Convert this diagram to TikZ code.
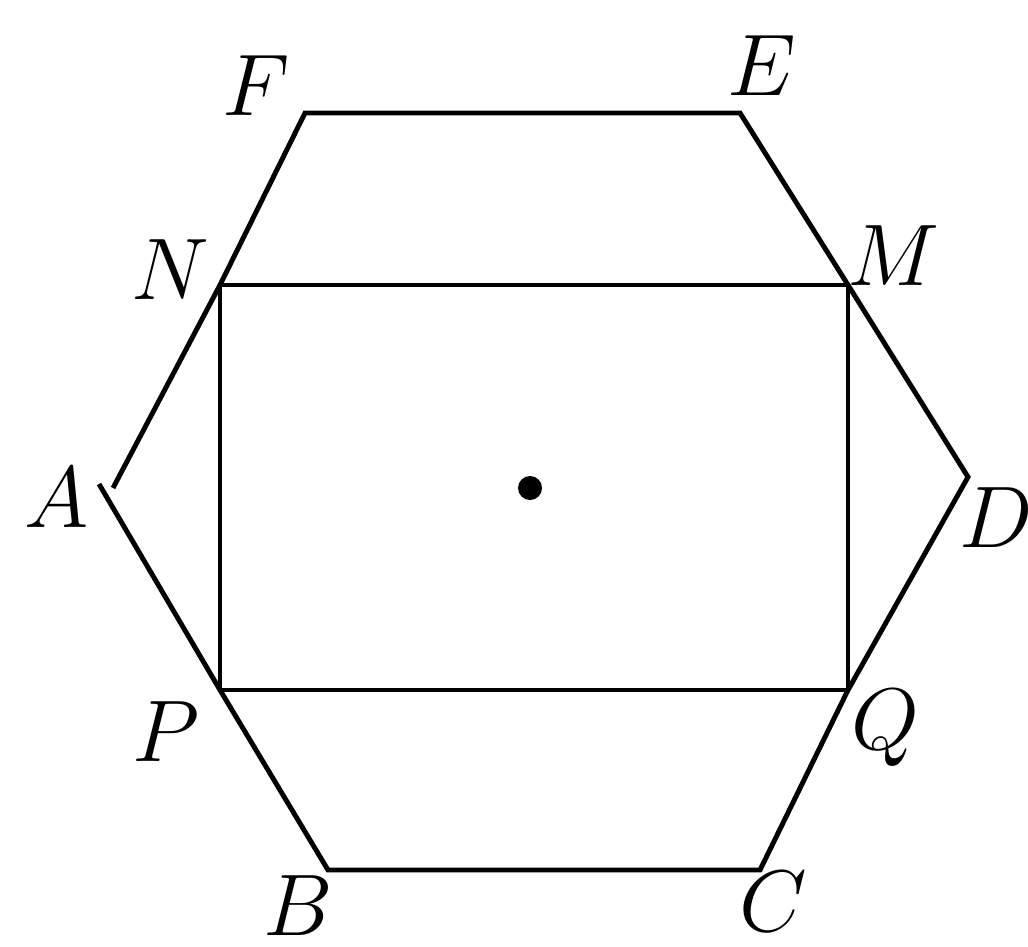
\documentclass[tikz,border=0pt]{standalone}
\usepackage{amsmath,amssymb}
\usepackage{tikz}
\usetikzlibrary{calc}

\begin{document}
\begin{tikzpicture}[x=0.01cm,y=-0.01cm,
			point/.style={circle,fill=black,inner sep=0pt,minimum size=0.24cm},
			edge/.style={line width=1.4pt,line join=miter},
			lab/.style={font=\fontsize{25}{30}\selectfont,inner sep=0pt},
			]
			\useasboundingbox (0,0) rectangle (1028,946);
			% 六边形顶点
			\coordinate (F) at (305,113);
			\coordinate (E) at (740,113);
			\coordinate (D) at (968,477);
			\coordinate (C) at (760,870);
			\coordinate (B) at (328,870);
			\coordinate (A1) at (113,488);
			\coordinate (A2) at (99,484);
			% 矩形顶点
			\coordinate (N) at (220,285);
			\coordinate (M) at (848,285);
			\coordinate (Q) at (848,690);
			\coordinate (P) at (220,690);
			
			% 六边形（A 处两段不相接）
			\draw[edge] (A1)--(N)--(F)--(E)--(M)--(D)--(Q)--(C)--(B)--(P)--(A2);
			
			% 矩形 MNPQ
			\draw[edge] (N)--(M)--(Q)--(P)--cycle;
			
			% 中心点
			\node[point] (O) at (530,488) {};
			
			% 字母
			\node[lab] (lF) at (256,86) {$F$};
			\node[lab] (lE) at (762,66) {$E$};
			\node[lab] (lN) at (170,270) {$N$};
			\node[lab] (lM) at (893,256) {$M$};
			\node[lab] (lA) at (57,498) {$A$};
			\node[lab] (lD) at (996,518) {$D$};
			\node[lab] (lP) at (166,732) {$P$};
			\node[lab] (lQ) at (885,728) {$Q$};
			\node[lab] (lB) at (298,906) {$B$};
			\node[lab] (lC) at (773,902) {$C$};
		\end{tikzpicture}
\end{document}
